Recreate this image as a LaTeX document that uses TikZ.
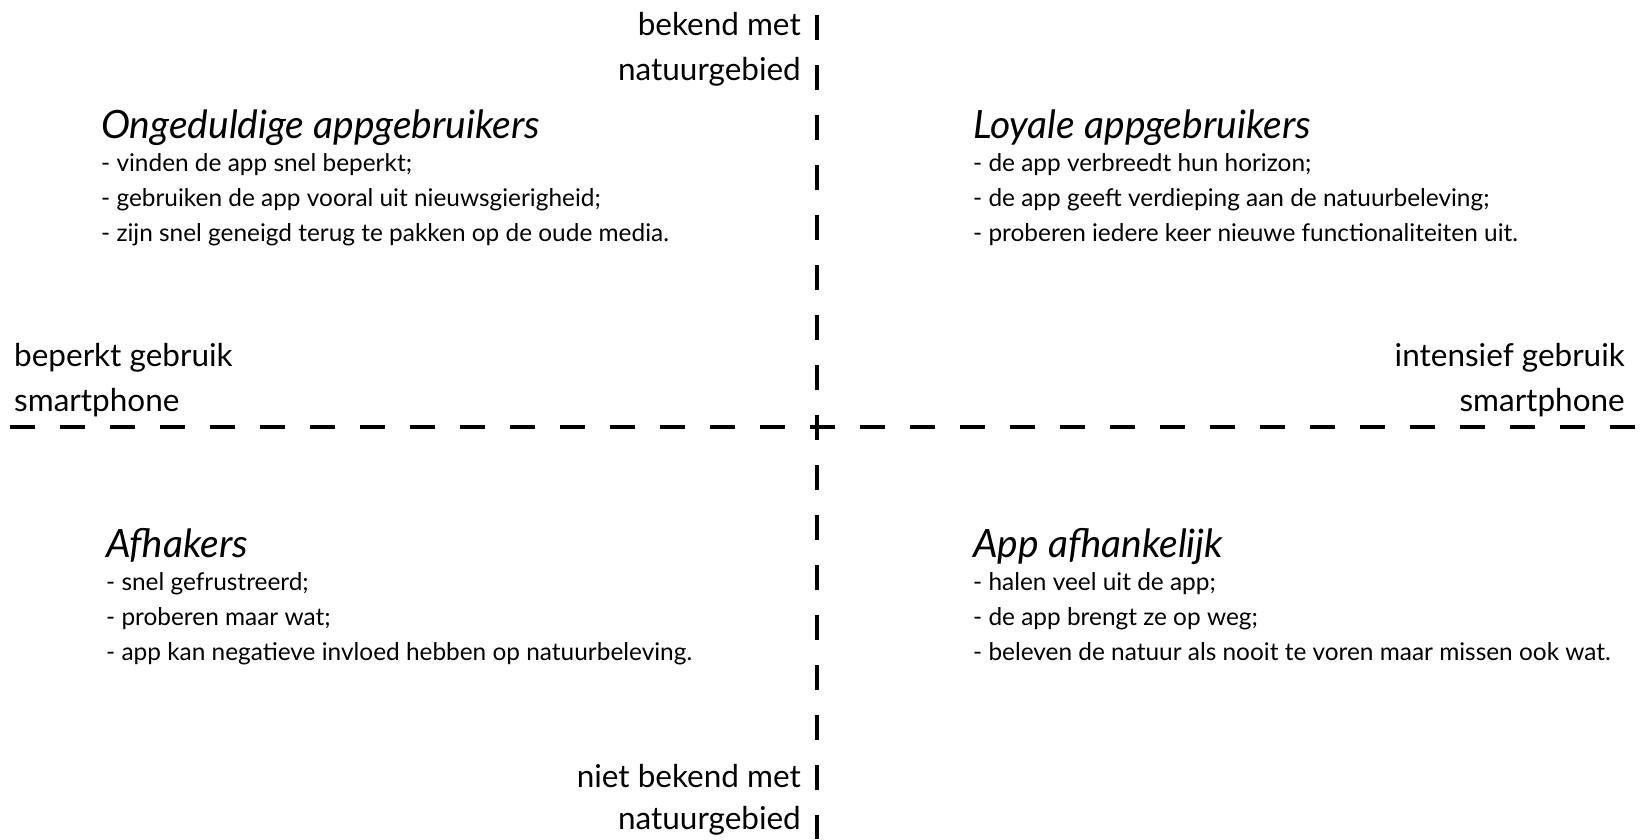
\documentclass[tikz,border=0pt]{standalone}
\usepackage{fontspec}
\setmainfont{Lato}

\begin{document}
\begin{tikzpicture}[x=1pt,y=-1pt,
  axis/.style={line width=4pt,dash pattern=on 25pt off 25pt},
  lbl/.style={inner sep=0pt,font=\fontsize{31.5}{36}\selectfont},
  kop/.style={inner sep=0pt,anchor=base west,font=\fontsize{39}{44}\selectfont\itshape},
  punt/.style={inner sep=0pt,anchor=base west,font=\fontsize{24.4}{28}\selectfont}]
  \useasboundingbox (0,0) rectangle (1640,839);

  \coordinate (top) at (817,15);
  \coordinate (bot) at (817,839);
  \coordinate (lft) at (10,427);
  \coordinate (rgt) at (1640,427);
  \draw[axis] (lft) -- (rgt);
  \draw[axis] (top) -- (bot);

  % axis labels
  \node[lbl,anchor=base east] (bek1) at (801,35) {bekend met};
  \node[lbl,anchor=base east] (bek2) at (801,80) {natuurgebied};
  \node[lbl,anchor=base east] (niet1) at (801,787) {niet bekend met};
  \node[lbl,anchor=base east] (niet2) at (801,829) {natuurgebied};
  \node[lbl,anchor=base west] (bep1) at (14,366) {beperkt gebruik};
  \node[lbl,anchor=base west] (bep2) at (14,411) {smartphone};
  \node[lbl,anchor=base east] (int1) at (1625,366) {intensief gebruik};
  \node[lbl,anchor=base east] (int2) at (1625,411) {smartphone};

  % quadrants
  \node[kop] (ong) at (101,138) {Ongeduldige appgebruikers};
  \foreach \t [count=\i] in {- vinden de app snel beperkt;,
      - gebruiken de app vooral uit nieuwsgierigheid;,
      - zijn snel geneigd terug te pakken op de oude media.}
    \node[punt] (ong\i) at (101,{136+35*\i}) {\t};

  \node[kop] (loy) at (973,138) {Loyale appgebruikers};
  \foreach \t [count=\i] in {- de app verbreedt hun horizon;,
      - de app geeft verdieping aan de natuurbeleving;,
      - proberen iedere keer nieuwe functionaliteiten uit.}
    \node[punt] (loy\i) at (973,{136+35*\i}) {\t};

  \node[kop] (afh) at (106,557) {Afhakers};
  \foreach \t [count=\i] in {- snel gefrustreerd;,
      - proberen maar wat;,
      - app kan negatieve invloed hebben op natuurbeleving.}
    \node[punt] (afh\i) at (106,{555+35*\i}) {\t};

  \node[kop] (dep) at (973,557) {App afhankelijk};
  \foreach \t [count=\i] in {- halen veel uit de app;,
      - de app brengt ze op weg;,
      - beleven de natuur als nooit te voren maar missen ook wat.}
    \node[punt] (dep\i) at (973,{555+35*\i}) {\t};
\end{tikzpicture}
\end{document}
